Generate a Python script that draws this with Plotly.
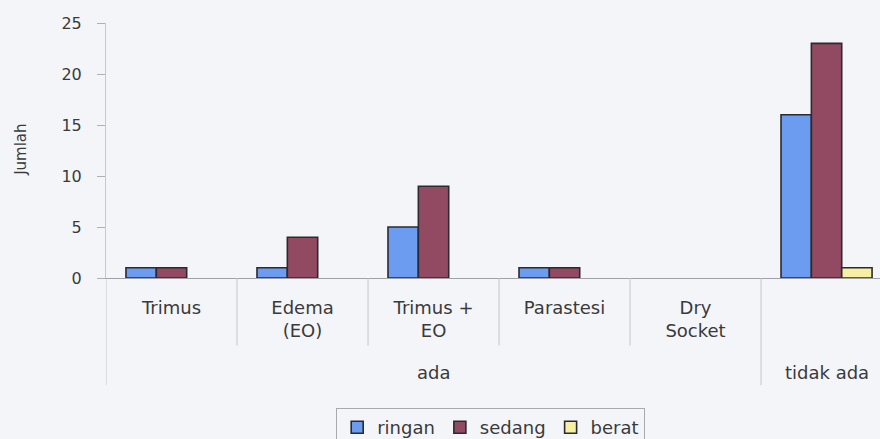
import plotly.graph_objects as go

groups = ["ada", "tidak ada"]
group_span = [5, 1]
subcats = ["Trimus", "Edema<br>(EO)", "Trimus +<br>EO", "Parastesi", "Dry<br>Socket", " "]
ringan = [1, 1, 5, 1, 0, 16]
sedang = [1, 4, 9, 1, 0, 23]
berat = [0, 0, 0, 0, 0, 1]

series = [("ringan", ringan, "#6c9cf0"), ("sedang", sedang, "#914a61"), ("berat", berat, "#f7f0a4")]

FONT = "DejaVu Sans, Liberation Sans, Arial"
TXT = "#3a3a3a"
bg = "#f4f5f9"

fig = go.Figure()
for name, vals, col in series:
    # zero-height bars are not drawn (as in the original chart)
    fig.add_trace(go.Bar(
        x=subcats, y=[v if v else None for v in vals], name=name,
        marker=dict(color=col, line=dict(color="#2a2a30", width=1.6)),
    ))

# subcategory boundaries and group dividers (drawn in axis coordinates)
shapes = []
start = 0
bounds = []
for span in group_span:
    bounds.append(start - 0.5)
    start += span
for i in range(len(subcats) - 1):
    b = i + 0.5
    if b in bounds:
        continue
    shapes.append(dict(type="line", xref="x", yref="paper", x0=b, x1=b, y0=0, y1=-0.265,
                       line=dict(color="#c4c5ca", width=1)))
for b in bounds:
    shapes.append(dict(type="line", xref="x", yref="paper", x0=b, x1=b, y0=0, y1=-0.42,
                       line=dict(color="#c4c5ca", width=1)))

annotations = []
start = 0
for g, span in zip(groups, group_span):
    annotations.append(dict(text=g, xref="x", yref="paper", x=start + (span - 1) / 2, y=-0.369,
                            showarrow=False, font=dict(family=FONT, size=18, color=TXT),
                            xanchor="center", yanchor="middle"))
    start += span
annotations.append(dict(text="Jumlah", xref="paper", yref="paper", x=-0.11, y=0.502, textangle=-90,
                        showarrow=False, font=dict(family=FONT, size=15, color=TXT),
                        xanchor="center", yanchor="middle"))

fig.update_layout(
    width=880, height=439,
    margin=dict(l=106, r=0, t=23, b=161, autoexpand=False),
    paper_bgcolor=bg, plot_bgcolor=bg,
    barmode="group", bargap=0.305, bargroupgap=0,
    font=dict(family=FONT, size=18, color=TXT),
    showlegend=True,
    legend=dict(orientation="h", x=0.497, xanchor="center", y=-0.51, yanchor="top",
                bordercolor="#a8a8ae", borderwidth=1, bgcolor=bg,
                font=dict(family=FONT, size=18, color=TXT), traceorder="normal",
                itemwidth=30),
    shapes=shapes, annotations=annotations,
    xaxis=dict(type="category", range=[-0.5, 5.408], automargin=False,
               showline=True, linecolor="#a0a0a6", linewidth=1.2,
               ticks="", ticklabelstandoff=13,
               tickfont=dict(family=FONT, size=18, color=TXT), showgrid=False),
    yaxis=dict(range=[0, 25], dtick=5, automargin=False,
               showline=True, linecolor="#c8c8cc", linewidth=1,
               ticks="outside", ticklen=8, tickcolor="#b0b0b6", showgrid=False,
               ticklabelstandoff=12,
               tickfont=dict(family=FONT, size=16, color=TXT), zeroline=False),
)

fig.write_html("out.html", config={"displayModeBar": False},
               post_script="document.body.style.margin='0';document.body.style.background='%s';" % bg)
